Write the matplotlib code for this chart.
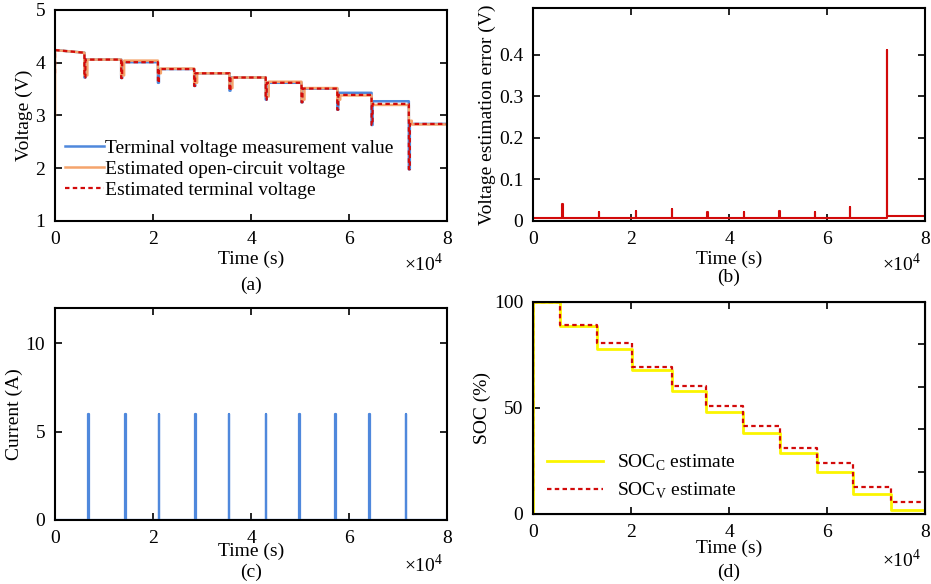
import numpy as np
import matplotlib
matplotlib.use('Agg')
import matplotlib.pyplot as plt

plt.rcParams['font.family'] = ['Liberation Serif', 'DejaVu Serif']
plt.rcParams['mathtext.fontset'] = 'custom'
plt.rcParams['mathtext.rm'] = 'Liberation Serif'
plt.rcParams['font.size'] = 14

BLUE = '#4f88dc'
ORANGE = '#f5a46c'
RED = '#d20a0a'
YELLOW = '#fbf500'

# pulse instants (x1e4 s)
pulse_t = [0.60, 1.35, 2.10, 2.84, 3.56, 4.30, 5.03, 5.76, 6.46, 7.22]
pulse_w = 0.02

# (a) voltage levels: start of test, then after each pulse
v_meas_start = 4.24
v_meas = [4.19, 4.06, 4.01, 3.88, 3.80, 3.72, 3.62, 3.51, 3.43, 3.27, 2.84]
v_ocv = [4.19, 4.06, 4.04, 3.89, 3.80, 3.72, 3.64, 3.52, 3.38, 3.20, 2.83]
v_est = [4.19, 4.06, 4.01, 3.88, 3.80, 3.72, 3.62, 3.51, 3.39, 3.22, 2.84]
v_dip = [3.72, 3.71, 3.62, 3.56, 3.47, 3.30, 3.25, 3.11, 2.82, 1.98]
v_ocv_dip = [3.76, 3.76, 3.80, 3.62, 3.52, 3.36, 3.30, 3.30, 3.20, 2.90]
v_ocv_init = 3.0
v_est_init = 3.8

# (b) estimation error
err_base = [0.008, 0.008, 0.006, 0.008, 0.008, 0.008, 0.008, 0.008, 0.008, 0.008, 0.011]
err_peak = [0.042, 0.021, 0.024, 0.029, 0.021, 0.021, 0.024, 0.021, 0.033, 0.412]

# (c) current
i_peak = [6.0] * 10
c_pulse_t = [0.68, 1.43, 2.12, 2.86, 3.55, 4.30, 4.98, 5.72, 6.41, 7.16]

# (d) SOC levels
soc_t = [0.56, 1.31, 2.03, 2.83, 3.53, 4.29, 5.05, 5.79, 6.54, 7.30]
soc_c = [100, 88.7, 77.7, 67.8, 58.1, 47.9, 38.3, 29.0, 19.6, 9.4, 1.9]
soc_v = [100, 89.0, 80.8, 69.1, 60.3, 51.0, 41.4, 30.9, 24.0, 12.9, 5.7]
soc_v_init = 11


def pulse_series(t_list, base, peaks, start=None, w=pulse_w):
    t = [0.0]
    y = [base[0] if start is None else start]
    for i, tp in enumerate(t_list):
        t += [tp, tp, tp + w, tp + w]
        y += [base[i], peaks[i], peaks[i], base[i + 1]]
    t.append(8.0)
    y.append(base[-1])
    return np.array(t) * 1e4, np.array(y)


def style(ax):
    ax.tick_params(direction='in', top=True, right=True, length=5, width=1.2, labelsize=14, pad=7)
    for s in ax.spines.values():
        s.set_linewidth(1.5)
    ax.set_xlim(0, 8e4)
    ax.set_xticks([0, 2e4, 4e4, 6e4, 8e4])
    ax.set_xticklabels(['0', '2', '4', '6', '8'])


fig = plt.figure(figsize=(9.31, 5.84), dpi=100)
ax_a = fig.add_axes([0.0591, 0.6216, 0.4211, 0.3613])
ax_b = fig.add_axes([0.5725, 0.6216, 0.4211, 0.3647])
ax_c = fig.add_axes([0.0591, 0.1096, 0.4211, 0.3630])
ax_d = fig.add_axes([0.5725, 0.1199, 0.4211, 0.3630])

# (a)
tm, ym = pulse_series(pulse_t, v_meas, v_dip)
ym[0] = v_meas_start
to, yo = pulse_series(pulse_t, v_ocv, v_ocv_dip, w=0.06)
yo[0] = v_ocv_init
te, ye = pulse_series(pulse_t, v_est, v_dip)
ye[0] = v_est_init
to = np.insert(to, 1, 0.0)
yo = np.insert(yo, 1, v_meas_start)
te = np.insert(te, 1, 0.0)
ye = np.insert(ye, 1, v_meas_start)
ax_a.plot(tm, ym, color=BLUE, lw=1.8, label='Terminal voltage measurement value')
ax_a.plot(to, yo, color=ORANGE, lw=1.8, label='Estimated open-circuit voltage')
ax_a.plot(te, ye, color=RED, lw=1.6, ls=(0, (2, 1.5)), label='Estimated terminal voltage')
style(ax_a)
ax_a.set_ylim(1, 5)
ax_a.set_yticks([1, 2, 3, 4, 5])
ax_a.set_ylabel('Voltage (V)', labelpad=2)
ax_a.legend(loc='lower left', bbox_to_anchor=(0.026, 0.105), frameon=False, fontsize=14,
            handlelength=2.0, handletextpad=0.05, labelspacing=0.18, borderaxespad=0, borderpad=0)

# (b)
tb, yb = pulse_series(pulse_t, err_base, err_peak, w=0.004)
ax_b.plot(tb, yb, color=RED, lw=1.5)
style(ax_b)
ax_b.set_ylim(0, 0.513)
ax_b.set_yticks([0, 0.1, 0.2, 0.3, 0.4])
ax_b.set_yticklabels(['0', '0.1', '0.2', '0.3', '0.4'])
ax_b.set_ylabel('Voltage estimation error (V)', labelpad=2)

# (c)
tc, yc = pulse_series(c_pulse_t, [0.0] * 11, i_peak, w=0.01)
ax_c.plot(tc, yc, color=BLUE, lw=1.6)
style(ax_c)
ax_c.set_ylim(0, 12)
ax_c.set_yticks([0, 5, 10])
ax_c.set_ylabel('Current (A)', labelpad=2)

# (d)
td = np.array([0.0] + soc_t + [8.0]) * 1e4
ax_d.plot([0, 0], [0, 100], color=YELLOW, lw=2)
ax_d.step(td, soc_c + [soc_c[-1]], where='post', color=YELLOW, lw=2, label='SOC$_{\\mathrm{C}}$ estimate')
ax_d.plot([0, 0], [soc_v_init, 100], color=RED, lw=1.6, ls=(0, (2, 1.5)))
ax_d.step(td, soc_v + [soc_v[-1]], where='post', color=RED, lw=1.6, ls=(0, (2, 1.5)),
          label='SOC$_{\\mathrm{V}}$ estimate')
style(ax_d)
ax_d.tick_params(right=False)
ax_d.set_ylim(0, 100)
ax_d.set_yticks([0, 50, 100])
ax_d.set_ylabel('SOC (%)', labelpad=2)
tw = ax_d.twinx()
tw.set_ylim(0, 100)
tw.set_yticks([20, 40, 60, 80])
tw.tick_params(direction='in', length=5, width=1.2, labelright=False)
ax_d.legend(loc='lower left', bbox_to_anchor=(0.036, 0.06), frameon=False, fontsize=14,
            handlelength=2.9, handletextpad=0.67, labelspacing=0.4, borderaxespad=0, borderpad=0)

# x labels, exponents and panel tags
layout = [(ax_a, '(a)', 2, -0.147, -0.262),
          (ax_b, '(b)', 2, -0.147, -0.225),
          (ax_c, '(c)', -3, -0.158, -0.205),
          (ax_d, '(d)', -1, -0.165, -0.236)]
for ax, tag, xl_pad, exp_y, tag_y in layout:
    ax.set_xlabel('Time (s)', labelpad=xl_pad)
    ax.text(0.99, exp_y, r'$\times$10$^{4}$', transform=ax.transAxes,
            ha='right', va='top', fontsize=14)
    ax.text(0.5, tag_y, tag, transform=ax.transAxes, ha='center', va='top', fontsize=14)

fig.savefig('out.png', dpi=100)
